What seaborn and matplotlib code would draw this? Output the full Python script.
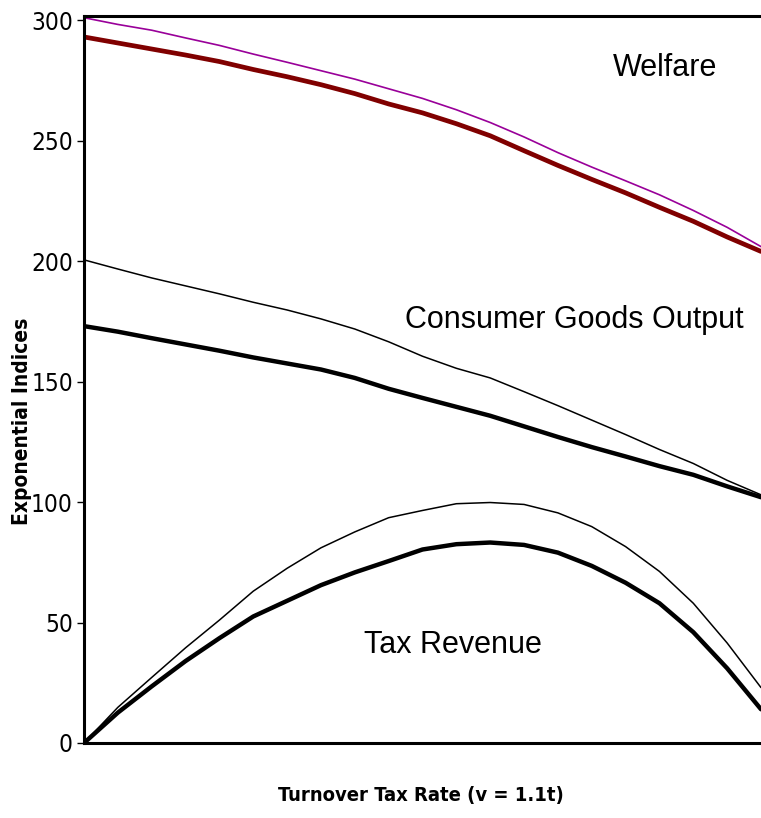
import numpy as np
import pandas as pd
import matplotlib
matplotlib.use("Agg")
import matplotlib.pyplot as plt
import seaborn as sns

# Turnover tax rate (relative position along the axis, no ticks shown)
tax_rate = [i / 20 for i in range(21)]

welfare_upper = [301, 298.2, 295.8, 292.6, 289.5, 285.9, 282.5, 279.0, 275.5, 271.5,
                 267.5, 262.8, 257.5, 251.5, 245.0, 239.0, 233.3, 227.5, 221.0, 214.0, 206.0]
welfare_lower = [293, 290.5, 288.0, 285.5, 282.8, 279.5, 276.5, 273.2, 269.5, 265.2,
                 261.5, 257.0, 252.0, 245.8, 239.7, 233.9, 228.3, 222.3, 216.5, 210.0, 204.0]
consumer_upper = [200.5, 196.7, 193.0, 189.7, 186.4, 182.9, 179.7, 176.0, 171.8, 166.5,
                  160.5, 155.5, 151.5, 145.8, 140.0, 134.0, 128.0, 121.8, 116.0, 109.0, 103.0]
consumer_lower = [173, 170.7, 168.0, 165.4, 162.8, 160.0, 157.5, 155.0, 151.5, 147.0,
                  143.2, 139.5, 135.8, 131.4, 127.0, 122.8, 118.9, 114.9, 111.3, 106.5, 102.0]
revenue_upper = [0, 14.8, 27.2, 39.5, 51.0, 63.0, 72.5, 81.0, 87.6, 93.5,
                 96.5, 99.3, 99.8, 99.0, 95.5, 89.8, 81.5, 71.2, 58.0, 41.5, 23.0]
revenue_lower = [0, 12.6, 23.5, 34.0, 43.5, 52.5, 59.0, 65.5, 70.8, 75.5,
                 80.3, 82.5, 83.2, 82.2, 79.0, 73.5, 66.5, 58.0, 46.0, 31.0, 14.0]

y_ticks = [0, 50, 100, 150, 200, 250, 300]

sns.set_theme(style="white")
plt.rcParams.update({"text.color": "black", "axes.labelcolor": "black",
                     "xtick.color": "black", "ytick.color": "black"})
narrow = ["DejaVu Sans"]
regular = ["Liberation Sans", "DejaVu Sans"]

fig = plt.figure(figsize=(7.61, 8.18), dpi=100)
ax = fig.add_axes([84 / 761, 75 / 818, 677 / 761, 727 / 818])

series = [
    (welfare_upper, "#990099", 1.2),
    (welfare_lower, "#800000", 3.4),
    (consumer_upper, "black", 1.1),
    (consumer_lower, "black", 3.2),
    (revenue_upper, "black", 1.1),
    (revenue_lower, "black", 3.2),
]
for vals, col, lw in series:
    df = pd.DataFrame({"x": tax_rate, "y": vals})
    sns.lineplot(data=df, x="x", y="y", ax=ax, color=col, linewidth=lw)

ax.set_xlim(0, 1)
ax.set_ylim(0, 301.7)
ax.set_xticks([])
ax.set_yticks(y_ticks)
ax.set_yticklabels([str(t) for t in y_ticks], family=narrow, fontstretch="condensed",
                   fontsize=17.5, color="black")
ax.tick_params(axis="y", direction="out", length=5, width=1, color="black", pad=3, left=True)

for s in ["left", "bottom", "top"]:
    ax.spines[s].set_color("black")
    ax.spines[s].set_linewidth(2.2)
ax.spines["right"].set_visible(False)

ax.set_xlabel("")
ax.set_ylabel("")
fig.text(22 / 761, 1 - 421 / 818, "Exponential Indices", rotation=90, ha="center", va="center",
         family=narrow, fontstretch="condensed", fontweight="bold", fontsize=15, color="black")
fig.text(421 / 761, 1 - 796 / 818, "Turnover Tax Rate (v = 1.1t)", ha="center", va="center",
         family=narrow, fontstretch="condensed", fontweight="bold", fontsize=14.5, color="black")

ax.text(0.858, 280, "Welfare", ha="center", va="center", family=regular, fontsize=22, color="black")
ax.text(0.724, 175.5, "Consumer Goods Output", ha="center", va="center", family=regular,
        fontsize=22, color="black")
ax.text(0.545, 40.7, "Tax Revenue", ha="center", va="center", family=regular, fontsize=22,
        color="black")

fig.savefig("out.png", dpi=100)
